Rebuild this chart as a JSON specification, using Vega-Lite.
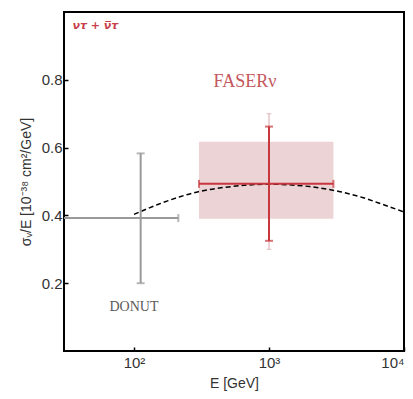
{
  "$schema": "https://vega.github.io/schema/vega-lite/v6.json",
  "width": 340,
  "height": 339,
  "autosize": "none",
  "padding": {"left": 64, "top": 12, "right": 9, "bottom": 48},
  "background": "white",
  "config": {
    "view": {"stroke": "black", "strokeWidth": 2},
    "axis": {"grid": false, "domain": false, "labelFont": "Liberation Sans", "titleFont": "Liberation Sans", "labelFontSize": 15, "titleFontSize": 14, "labelColor": "#333", "titleColor": "#333", "tickColor": "black", "tickWidth": 1.5, "tickSize": -4, "titleFontWeight": "normal"}
  },
  "datasets": {
    "curve": [
      {"E": 100, "s": 0.403}, {"E": 150, "s": 0.432}, {"E": 219, "s": 0.455}, {"E": 300, "s": 0.47},
      {"E": 500, "s": 0.484}, {"E": 1000, "s": 0.492}, {"E": 2000, "s": 0.485}, {"E": 3360, "s": 0.47},
      {"E": 5000, "s": 0.452}, {"E": 7000, "s": 0.432}, {"E": 10000, "s": 0.41}
    ],
    "pts": [
      {"exp": "DONUT", "E": 112, "s": 0.392, "Elo": 25, "Ehi": 213, "slo": 0.2, "shi": 0.583},
      {"exp": "FASER", "E": 1000, "s": 0.493, "Elo": 303, "Ehi": 3000, "slo": 0.325, "shi": 0.662}
    ]
  },
  "layer": [
    {
      "data": {"values": [{"Elo": 303, "Ehi": 3000, "slo": 0.39, "shi": 0.617}]},
      "mark": {"type": "rect", "color": "#ecd3d5", "opacity": 1},
      "encoding": {
        "x": {"field": "Elo", "type": "quantitative", "scale": {"type": "log", "domain": [30.3, 10000], "nice": false},
          "axis": {"values": [100, 1000, 10000], "title": "E [GeV]", "labelExpr": "datum.value == 100 ? '10²' : datum.value == 1000 ? '10³' : '10⁴'", "labelPadding": 8, "titlePadding": 6}},
        "x2": {"field": "Ehi"},
        "y": {"field": "slo", "type": "quantitative", "scale": {"domain": [0, 1], "nice": false},
          "axis": {"values": [0.2, 0.4, 0.6, 0.8], "format": ".1f", "title": "σᵥ/E [10⁻³⁸ cm²/GeV]", "labelPadding": 6, "titlePadding": 8}},
        "y2": {"field": "shi"}
      }
    },
    {
      "data": {"values": [{"E": 1000, "slo": 0.30, "shi": 0.70}]},
      "mark": {"type": "rule", "color": "#d9a5a8", "strokeWidth": 1},
      "encoding": {"x": {"field": "E", "type": "quantitative"}, "y": {"field": "slo", "type": "quantitative"}, "y2": {"field": "shi"}}
    },
    {
      "data": {"values": [{"E": 1000, "v": 0.30}, {"E": 1000, "v": 0.70}]},
      "mark": {"type": "tick", "orient": "horizontal", "color": "#d9a5a8", "size": 5, "thickness": 1},
      "encoding": {"x": {"field": "E", "type": "quantitative"}, "y": {"field": "v", "type": "quantitative"}}
    },
    {
      "data": {"name": "curve"},
      "mark": {"type": "line", "color": "black", "strokeWidth": 1.5, "strokeDash": [5, 3], "interpolate": "monotone"},
      "encoding": {"x": {"field": "E", "type": "quantitative"}, "y": {"field": "s", "type": "quantitative"}}
    },
    {
      "data": {"name": "pts"},
      "mark": {"type": "rule", "strokeWidth": 2, "clip": true},
      "encoding": {
        "x": {"field": "Elo", "type": "quantitative"}, "x2": {"field": "Ehi"},
        "y": {"field": "s", "type": "quantitative"},
        "color": {"field": "exp", "type": "nominal", "scale": {"domain": ["DONUT", "FASER"], "range": ["#9a9a9a", "#c8373c"]}, "legend": null}
      }
    },
    {
      "data": {"name": "pts"},
      "mark": {"type": "rule", "strokeWidth": 2},
      "encoding": {
        "x": {"field": "E", "type": "quantitative"},
        "y": {"field": "slo", "type": "quantitative"}, "y2": {"field": "shi"},
        "color": {"field": "exp", "type": "nominal", "legend": null}
      }
    },
    {
      "data": {"name": "pts"},
      "transform": [{"fold": ["slo", "shi"], "as": ["k", "v"]}],
      "mark": {"type": "tick", "orient": "horizontal", "size": 8, "thickness": 2},
      "encoding": {
        "x": {"field": "E", "type": "quantitative"},
        "y": {"field": "v", "type": "quantitative"},
        "color": {"field": "exp", "type": "nominal", "legend": null}
      }
    },
    {
      "data": {"name": "pts"},
      "transform": [{"fold": ["Elo", "Ehi"], "as": ["k", "v"]}, {"filter": "datum.v > 30.3"}],
      "mark": {"type": "tick", "orient": "vertical", "size": 8, "thickness": 2},
      "encoding": {
        "x": {"field": "v", "type": "quantitative"},
        "y": {"field": "s", "type": "quantitative"},
        "color": {"field": "exp", "type": "nominal", "legend": null}
      }
    },
    {
      "data": {"values": [{"E": 35, "s": 0.958, "t": "ντ + ν̅τ"}]},
      "mark": {"type": "text", "align": "left", "baseline": "middle", "font": "DejaVu Sans", "fontStyle": "italic", "fontWeight": "bold", "fontSize": 11, "fill": "#c8404a"},
      "encoding": {"x": {"field": "E", "type": "quantitative"}, "y": {"field": "s", "type": "quantitative"}, "text": {"field": "t"}}
    },
    {
      "data": {"values": [{"E": 664, "s": 0.793, "t": "FASERν"}]},
      "mark": {"type": "text", "align": "center", "baseline": "middle", "font": "Liberation Serif", "fontSize": 18, "fill": "#c4575c"},
      "encoding": {"x": {"field": "E", "type": "quantitative"}, "y": {"field": "s", "type": "quantitative"}, "text": {"field": "t"}}
    },
    {
      "data": {"values": [{"E": 100, "s": 0.13, "t": "DONUT"}]},
      "mark": {"type": "text", "align": "center", "baseline": "middle", "font": "Liberation Serif", "fontSize": 14, "fill": "#5a5a5a"},
      "encoding": {"x": {"field": "E", "type": "quantitative"}, "y": {"field": "s", "type": "quantitative"}, "text": {"field": "t"}}
    }
  ]
}
